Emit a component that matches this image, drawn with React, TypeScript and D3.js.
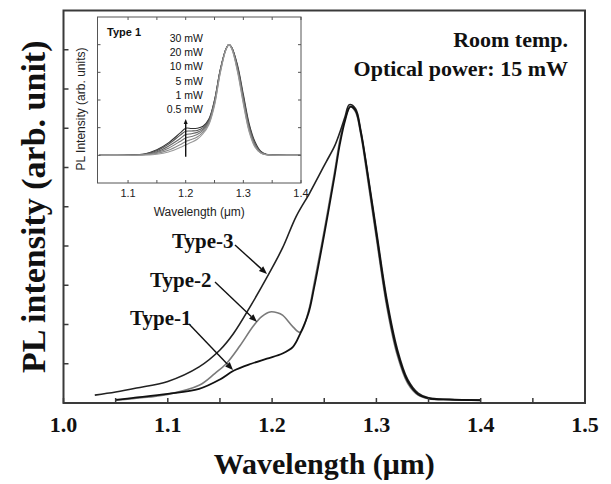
import * as d3 from 'd3'

const W = 611
const H = 484

// main panel series (intensity in arb. units, axis 0..10)
const type1X = [1.05, 1.067, 1.10, 1.13, 1.15, 1.163, 1.18, 1.195, 1.21, 1.22, 1.227, 1.235, 1.24, 1.25, 1.26, 1.265, 1.27, 1.275, 1.28, 1.285, 1.29, 1.30, 1.31, 1.32, 1.33, 1.34, 1.35, 1.37, 1.40]
const type1Y = [0.08, 0.13, 0.23, 0.36, 0.6, 0.82, 1.0, 1.13, 1.26, 1.43, 1.77, 2.3, 2.9, 4.3, 5.8, 6.6, 7.2, 7.55, 7.45, 6.9, 6.1, 4.3, 2.55, 1.3, 0.55, 0.22, 0.12, 0.09, 0.07]

const type2X = [1.05, 1.07, 1.10, 1.13, 1.145, 1.156, 1.169, 1.182, 1.19, 1.198, 1.205, 1.21, 1.22, 1.227, 1.235, 1.24, 1.25, 1.26, 1.265, 1.27, 1.275, 1.28, 1.285, 1.29, 1.30, 1.31, 1.32, 1.33, 1.34, 1.35, 1.37, 1.40]
const type2Y = [0.07, 0.12, 0.22, 0.45, 0.75, 1.0, 1.45, 1.96, 2.2, 2.32, 2.3, 2.24, 1.94, 1.8, 2.35, 3.0, 4.4, 5.9, 6.7, 7.25, 7.55, 7.42, 6.85, 6.0, 4.2, 2.45, 1.22, 0.5, 0.2, 0.11, 0.08, 0.07]

const type3X = [1.03, 1.05, 1.07, 1.10, 1.13, 1.15, 1.163, 1.18, 1.195, 1.21, 1.223, 1.236, 1.245, 1.252, 1.26, 1.265, 1.27, 1.274, 1.28, 1.285, 1.29, 1.30, 1.31, 1.32, 1.33, 1.34, 1.35, 1.37, 1.40]
const type3Y = [0.2, 0.28, 0.38, 0.55, 0.92, 1.35, 1.77, 2.5, 3.2, 3.95, 4.75, 5.35, 5.8, 6.15, 6.55, 6.9, 7.3, 7.6, 7.5, 6.95, 6.15, 4.4, 2.65, 1.38, 0.6, 0.25, 0.13, 0.09, 0.07]

const mainXTicks = [1.0, 1.1, 1.2, 1.3, 1.4, 1.5]
const mainXMinor = [1.05, 1.15, 1.25, 1.35, 1.45]
const mainYTicks = [1, 2, 3, 4, 5, 6, 7, 8, 9]

// inset: power dependence of type 1 (axis 0..6)
const insetX = [1.05, 1.10, 1.13, 1.15, 1.17, 1.19, 1.20, 1.21, 1.22, 1.23, 1.24, 1.25, 1.26, 1.27, 1.275, 1.28, 1.29, 1.30, 1.31, 1.32, 1.33, 1.34, 1.36, 1.40]
const powers = ['30 mW', '20 mW', '10 mW', '5 mW', '1 mW', '0.5 mW']
const p30 = [1.0, 1.01, 1.06, 1.2, 1.45, 1.8, 1.98, 1.97, 1.98, 2.05, 2.3, 3.0, 4.1, 4.85, 5.0, 4.9, 4.25, 3.2, 2.15, 1.5, 1.15, 1.04, 1.01, 1.0]
const p20 = [1.0, 1.01, 1.05, 1.17, 1.4, 1.72, 1.87, 1.88, 1.9, 2.0, 2.27, 2.98, 4.1, 4.85, 5.0, 4.9, 4.2, 3.12, 2.08, 1.45, 1.13, 1.03, 1.01, 1.0]
const p10 = [1.0, 1.01, 1.04, 1.13, 1.33, 1.6, 1.75, 1.78, 1.83, 1.95, 2.22, 2.95, 4.08, 4.85, 5.0, 4.88, 4.15, 3.05, 2.0, 1.4, 1.11, 1.03, 1.01, 1.0]
const p5 = [1.0, 1.0, 1.03, 1.1, 1.26, 1.5, 1.63, 1.68, 1.75, 1.9, 2.18, 2.9, 4.05, 4.85, 5.0, 4.87, 4.1, 2.98, 1.95, 1.36, 1.1, 1.02, 1.0, 1.0]
const p1 = [1.0, 1.0, 1.02, 1.07, 1.18, 1.38, 1.5, 1.57, 1.66, 1.84, 2.14, 2.85, 4.0, 4.83, 5.0, 4.85, 4.05, 2.92, 1.9, 1.33, 1.09, 1.02, 1.0, 1.0]
const p05 = [1.0, 1.0, 1.01, 1.04, 1.12, 1.28, 1.38, 1.47, 1.58, 1.78, 2.1, 2.8, 3.98, 4.82, 5.0, 4.84, 4.0, 2.85, 1.85, 1.3, 1.08, 1.02, 1.0, 1.0]
const insetSeries = [p30, p20, p10, p5, p1, p05]
const insetColors = ['#333', '#555', '#666', '#777', '#888', '#999']
const insetXTicks = [1.1, 1.2, 1.3, 1.4]
const insetXMinor = [1.15, 1.25, 1.35]
const insetYTicks = [1, 2, 3, 4, 5]

const SERIF = '"Liberation Serif", "Times New Roman", serif'
const SANS = '"Liberation Sans", Arial, sans-serif'

const x = d3.scaleLinear().domain([1.0, 1.5]).range([63.5, 585])
const y = d3.scaleLinear().domain([0, 10]).range([403, 10.5])

const ix = d3.scaleLinear().domain([1.047, 1.4]).range([97.5, 301])
const iy = d3.scaleLinear().domain([0, 6]).range([183, 17])

const line = (xs: number[], ys: number[], sx: any, sy: any) =>
  d3.line<number>()
    .x((_, i) => sx(xs[i]))
    .y(d => sy(d))
    .curve(d3.curveCatmullRom.alpha(0.5))(ys) as string

function Arrow({ x1, y1, x2, y2, head = 8 }: any) {
  const a = Math.atan2(y2 - y1, x2 - x1)
  const w = head * 0.4
  const bx = x2 - head * Math.cos(a), by = y2 - head * Math.sin(a)
  const pts = [
    [x2, y2],
    [bx + w * Math.sin(a), by - w * Math.cos(a)],
    [bx - w * Math.sin(a), by + w * Math.cos(a)],
  ]
  return (
    <g>
      <line x1={x1} y1={y1} x2={bx} y2={by} stroke="#111" strokeWidth={1.4} />
      <polygon points={pts.map(p => p.join(',')).join(' ')} fill="#111" />
    </g>
  )
}

export default function App() {
  const [x0, x1] = x.range()
  const [y0, y1] = y.range()
  const [ix0, ix1] = ix.range()
  const [iy0, iy1] = iy.range()

  return (
    <svg width={W} height={H} style={{ position: 'absolute', left: 0, top: 0, background: '#fff' }}>
      {/* main curves */}
      <path d={line(type2X, type2Y, x, y)} fill="none" stroke="#7a7a7a" strokeWidth={1.6} />
      <path d={line(type3X, type3Y, x, y)} fill="none" stroke="#222" strokeWidth={1.6} />
      <path d={line(type1X, type1Y, x, y)} fill="none" stroke="#111" strokeWidth={1.8} />

      {/* main frame */}
      <rect x={x0} y={y1} width={x1 - x0} height={y0 - y1} fill="none" stroke="#3a3a3a" strokeWidth={2} />
      {mainXTicks.concat(mainXMinor).map(t => (
        <line key={'xt' + t} x1={x(t)} x2={x(t)} y1={y0} y2={y0 - 5} stroke="#3a3a3a" strokeWidth={1.5} />
      ))}
      {mainYTicks.map(t => (
        <line key={'yt' + t} x1={x0} x2={x0 + 5} y1={y(t)} y2={y(t)} stroke="#3a3a3a" strokeWidth={1.5} />
      ))}
      {mainXTicks.map(t => (
        <text key={'xl' + t} x={x(t)} y={432} textAnchor="middle" fontFamily={SERIF} fontWeight="bold" fontSize={22} fill="#111">
          {t.toFixed(1)}
        </text>
      ))}
      <text x={(x0 + x1) / 2} y={474} textAnchor="middle" fontFamily={SERIF} fontWeight="bold" fontSize={30} fill="#111">
        Wavelength (μm)
      </text>
      <text transform={`translate(45,${(y0 + y1) / 2}) rotate(-90)`} textAnchor="middle" fontFamily={SERIF} fontWeight="bold" fontSize={34} fill="#111">
        PL intensity (arb. unit)
      </text>

      <text x={568} y={47} textAnchor="end" fontFamily={SERIF} fontWeight="bold" fontSize={22} fill="#111">Room temp.</text>
      <text x={568} y={76} textAnchor="end" fontFamily={SERIF} fontWeight="bold" fontSize={22} fill="#111">Optical power: 15 mW</text>

      {/* curve labels */}
      <text x={172} y={248} fontFamily={SERIF} fontWeight="bold" fontSize={21} fill="#111">Type-3</text>
      <Arrow x1={235} y1={245} x2={267} y2={274} />
      <text x={150} y={287} fontFamily={SERIF} fontWeight="bold" fontSize={21} fill="#111">Type-2</text>
      <Arrow x1={215} y1={282} x2={257} y2={322} />
      <text x={130} y={325} fontFamily={SERIF} fontWeight="bold" fontSize={21} fill="#111">Type-1</text>
      <Arrow x1={189} y1={324} x2={233} y2={370} />

      {/* inset */}
      <rect x={ix0} y={iy1} width={ix1 - ix0} height={iy0 - iy1} fill="#fff" stroke="#555" strokeWidth={1} />
      {insetSeries.map((s, i) => (
        <path key={powers[i]} d={line(insetX, s, ix, iy)} fill="none" stroke={insetColors[i]} strokeWidth={1.1} />
      ))}
      {insetXTicks.concat(insetXMinor).map(t => (
        <g key={'ixt' + t}>
          <line x1={ix(t)} x2={ix(t)} y1={iy0} y2={iy0 - 3} stroke="#555" />
          <line x1={ix(t)} x2={ix(t)} y1={iy1} y2={iy1 + 3} stroke="#555" />
        </g>
      ))}
      {insetYTicks.map(t => (
        <g key={'iyt' + t}>
          <line x1={ix0} x2={ix0 + 3} y1={iy(t)} y2={iy(t)} stroke="#555" />
          <line x1={ix1} x2={ix1 - 3} y1={iy(t)} y2={iy(t)} stroke="#555" />
        </g>
      ))}
      {insetXTicks.map(t => (
        <text key={'ixl' + t} x={ix(t)} y={197} textAnchor="middle" fontFamily={SANS} fontSize={11} fill="#222">
          {t.toFixed(1)}
        </text>
      ))}
      <text x={(ix0 + ix1) / 2} y={216} textAnchor="middle" fontFamily={SANS} fontSize={12} fill="#222">Wavelength (μm)</text>
      <text transform={`translate(85,109) rotate(-90)`} textAnchor="middle" fontFamily={SANS} fontSize={12} fill="#222">
        PL Intensity  (arb. units)
      </text>
      <text x={107} y={36} fontFamily={SANS} fontWeight="bold" fontSize={11} fill="#111">Type 1</text>
      {powers.map((p, i) => (
        <text key={p} x={203} y={41.7 + i * 14.3} textAnchor="end" fontFamily={SANS} fontSize={10.5} fill="#111">{p}</text>
      ))}
      <Arrow x1={ix(1.2)} y1={iy(0.95)} x2={ix(1.2)} y2={119} head={5} />
    </svg>
  )
}
